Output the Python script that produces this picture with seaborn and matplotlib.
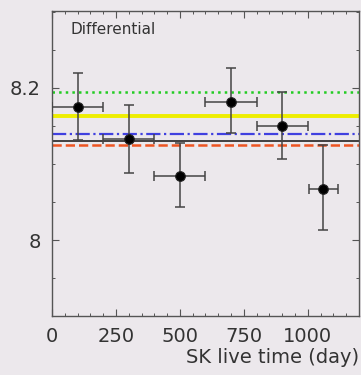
import matplotlib
matplotlib.use("Agg")
import matplotlib.pyplot as plt
import seaborn as sns
import pandas as pd
from matplotlib.ticker import MultipleLocator

# Data
time_day = [100, 300, 500, 700, 900, 1060]
time_err = [100, 100, 100, 100, 100, 57]
value = [8.175, 8.133, 8.084, 8.182, 8.150, 8.067]
err_up = [0.045, 0.045, 0.044, 0.044, 0.045, 0.058]
err_down = [0.043, 0.045, 0.041, 0.041, 0.043, 0.054]
line_levels = [8.195, 8.163, 8.139, 8.130, 8.125]
line_colors = ["#22cc22", "#eeee00", "#4040e0", "#111111", "#ee5522"]
line_styles = [":", "-", "-.", "-", "--"]
line_widths = [1.8, 2.8, 1.6, 1.1, 1.8]

df = pd.DataFrame({"t": time_day, "v": value})

sns.set_theme(style="ticks")
plt.rcParams["font.family"] = ["DejaVu Sans"]

bg = "#ece8ec"
fig = plt.figure(figsize=(3.61, 3.75), dpi=100, facecolor=bg)
ax = fig.add_axes([0.144, 0.157, 0.8505, 0.8137])
ax.set_facecolor(bg)

for lvl, c, ls, lw in zip(line_levels, line_colors, line_styles, line_widths):
    ax.axhline(lvl, color=c, ls=ls, lw=lw, zorder=2)

ax.errorbar(time_day, value, xerr=time_err, yerr=[err_down, err_up],
            fmt="none", ecolor="#444444", elinewidth=1.1, capsize=3.5,
            capthick=1.1, zorder=3)
sns.scatterplot(data=df, x="t", y="v", ax=ax, color="black", s=48,
                edgecolor="#222222", linewidth=0.8, zorder=4, legend=False)

ax.set_xlim(0, 1200)
ax.set_ylim(7.9, 8.301)
ax.xaxis.set_major_locator(MultipleLocator(250))
ax.xaxis.set_minor_locator(MultipleLocator(50))
ax.yaxis.set_major_locator(MultipleLocator(0.2))
ax.yaxis.set_minor_locator(MultipleLocator(0.05))
ax.set_yticks([8.0, 8.2])
ax.set_yticklabels(["8", "8.2"])
ax.tick_params(which="both", direction="in", top=True, right=True,
               color="#555555", labelsize=14, labelcolor="#333333")
ax.tick_params(which="major", length=5, width=0.8)
ax.tick_params(which="minor", length=2.5, width=0.7)
ax.tick_params(axis="x", pad=8)
ax.tick_params(axis="y", pad=8)
for s in ax.spines.values():
    s.set_color("#555555")
    s.set_linewidth(1.0)

ax.set_xlabel("SK live time (day)", loc="right", fontsize=14,
              color="#333333", labelpad=1)
ax.set_ylabel("")
ax.text(0.06, 0.965, "Differential", transform=ax.transAxes, fontsize=11,
        color="#333333", va="top", ha="left")

fig.savefig("out.png", dpi=100, facecolor=bg)
